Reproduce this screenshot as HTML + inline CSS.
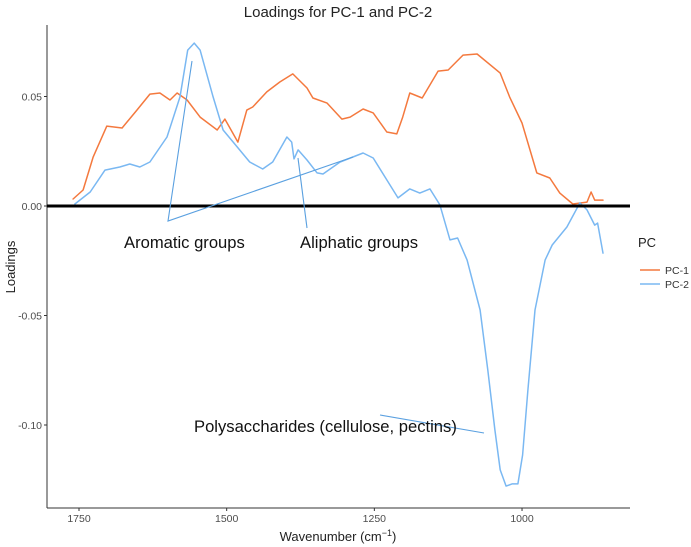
<!DOCTYPE html>
<html><head><meta charset="utf-8"><style>
body{margin:0;background:#fff;}
svg{display:block;font-family:"Liberation Sans",sans-serif;}
</style></head><body>
<svg id="chart" width="691" height="547" viewBox="0 0 691 547">
<text x="338" y="17" text-anchor="middle" font-size="15" fill="#222">Loadings for PC-1 and PC-2</text>
<g id="yticks"></g><g id="xticks"></g>
<line x1="47" y1="25" x2="47" y2="508" stroke="#333" stroke-width="1"/>
<line x1="47" y1="508" x2="630" y2="508" stroke="#333" stroke-width="1"/>
<g id="series"></g>
<line id="zero" x1="47" x2="630" stroke="#000" stroke-width="3"/>
<g stroke="#5aa0e0" stroke-width="1.1" fill="none">
<polyline points="192,61 168,221 353,157"/>
<line x1="307" y1="228" x2="298" y2="158"/>
<line x1="380" y1="415" x2="484" y2="433"/>
</g>
<text x="124" y="248" font-size="16.6" fill="#111">Aromatic groups</text>
<text x="300" y="248" font-size="16.6" fill="#111">Aliphatic groups</text>
<text x="194" y="432" font-size="16.6" fill="#111">Polysaccharides (cellulose, pectins)</text>
<text x="338" y="541" text-anchor="middle" font-size="13" fill="#222">Wavenumber (cm<tspan font-size="9" dy="-5">−1</tspan><tspan dy="5">)</tspan></text>
<text transform="translate(15,267) rotate(-90)" text-anchor="middle" font-size="13" fill="#222">Loadings</text>
<g>
<text x="638" y="247" font-size="13" fill="#222">PC</text>
<line x1="640" y1="270" x2="660" y2="270" stroke="#f4793e" stroke-width="1.5"/>
<text x="665" y="274" font-size="10.5" fill="#333">PC-1</text>
<line x1="640" y1="284" x2="660" y2="284" stroke="#7ab8f2" stroke-width="1.5"/>
<text x="665" y="288" font-size="10.5" fill="#333">PC-2</text>
</g>
</svg>
<script>
const pc1Wave=[1760,1743,1726,1703,1677,1652,1630,1613,1596,1584,1567,1545,1516,1503,1481,1466,1456,1432,1410,1388,1364,1354,1330,1305,1291,1269,1252,1229,1212,1202,1190,1169,1142,1125,1100,1076,1037,1021,1000,975,953,936,914,890,883,877,863];
const pc1Vals=[.0032,.0073,.0224,.0365,.0356,.0438,.0511,.0516,.0484,.0516,.0484,.0406,.0347,.0397,.0292,.0438,.0452,.0521,.0566,.0603,.0539,.0493,.0470,.0397,.0406,.0443,.0425,.0338,.0329,.0406,.0516,.0493,.0616,.0621,.0689,.0694,.0607,.0498,.0379,.0151,.0128,.0059,.0009,.0018,.0064,.0027,.0027];
const pc2Wave=[1757,1731,1706,1681,1664,1647,1630,1601,1579,1566,1555,1545,1523,1506,1489,1461,1439,1422,1398,1390,1386,1379,1364,1347,1337,1308,1269,1252,1229,1210,1190,1173,1156,1139,1122,1109,1093,1071,1058,1046,1037,1027,1017,1007,999,990,978,961,949,924,902,890,877,872,863];
const pc2Vals=[.0009,.0064,.0164,.0178,.0192,.0178,.0201,.0315,.0498,.0712,.0744,.0712,.0498,.0347,.0292,.0201,.0169,.0201,.0315,.0292,.0215,.0256,.0210,.0151,.0146,.0201,.0242,.0219,.0119,.0037,.0078,.0059,.0078,.0005,-.0155,-.0146,-.0247,-.0475,-.0749,-.1023,-.1205,-.1279,-.1269,-.1269,-.1137,-.0840,-.0475,-.0247,-.0178,-.0096,.0014,-.0018,-.0087,-.0078,-.0215];
const yTicks=[0.05,0,-0.05,-0.10];
const yTickLabels=["0.05","0.00","-0.05","-0.10"];
const xTicks=[1750,1500,1250,1000];
const xTickLabels=["1750","1500","1250","1000"];
const NS="http://www.w3.org/2000/svg";
function xS(w){return 79+(1750-w)*0.5907;}
function yS(v){return 206-v*2190;}
document.getElementById('zero').setAttribute('y1',yS(0));
document.getElementById('zero').setAttribute('y2',yS(0));
const yg=document.getElementById('yticks');
yTicks.forEach((t,i)=>{
 const l=document.createElementNS(NS,'line');
 
 
 l.setAttribute('x1',44);l.setAttribute('x2',47);l.setAttribute('y1',yS(t));l.setAttribute('y2',yS(t));l.setAttribute('stroke','#333');
 yg.appendChild(l);
 const tx=document.createElementNS(NS,'text');
 
 
 tx.setAttribute('x',42);tx.setAttribute('y',yS(t)+4);tx.setAttribute('text-anchor','end');tx.setAttribute('font-size','10.5');tx.setAttribute('fill','#4d4d4d');
 tx.textContent=yTickLabels[i];yg.appendChild(tx);
});
const xg=document.getElementById('xticks');
xTicks.forEach((t,i)=>{
 const l=document.createElementNS(NS,'line');
 
 
 l.setAttribute('x1',xS(t));l.setAttribute('x2',xS(t));l.setAttribute('y1',508);l.setAttribute('y2',511);l.setAttribute('stroke','#333');
 xg.appendChild(l);
 const tx=document.createElementNS(NS,'text');
 
 
 tx.setAttribute('x',xS(t));tx.setAttribute('y',522);tx.setAttribute('text-anchor','middle');tx.setAttribute('font-size','10.5');tx.setAttribute('fill','#4d4d4d');
 tx.textContent=xTickLabels[i];xg.appendChild(tx);
});
const sg=document.getElementById('series');
function draw(ws,vs,color,name){
 const p=document.createElementNS(NS,'polyline');
 
 
 p.setAttribute('points',ws.map((w,i)=>xS(w).toFixed(1)+','+yS(vs[i]).toFixed(1)).join(' '));
 p.setAttribute('fill','none');p.setAttribute('stroke',color);p.setAttribute('stroke-width','1.5');p.setAttribute('stroke-linejoin','round');p.setAttribute('stroke-linecap','round');
 sg.appendChild(p);
}
draw(pc1Wave,pc1Vals,'#f4793e','pc1-line');
draw(pc2Wave,pc2Vals,'#7ab8f2','pc2-line');
</script>
</body></html>
